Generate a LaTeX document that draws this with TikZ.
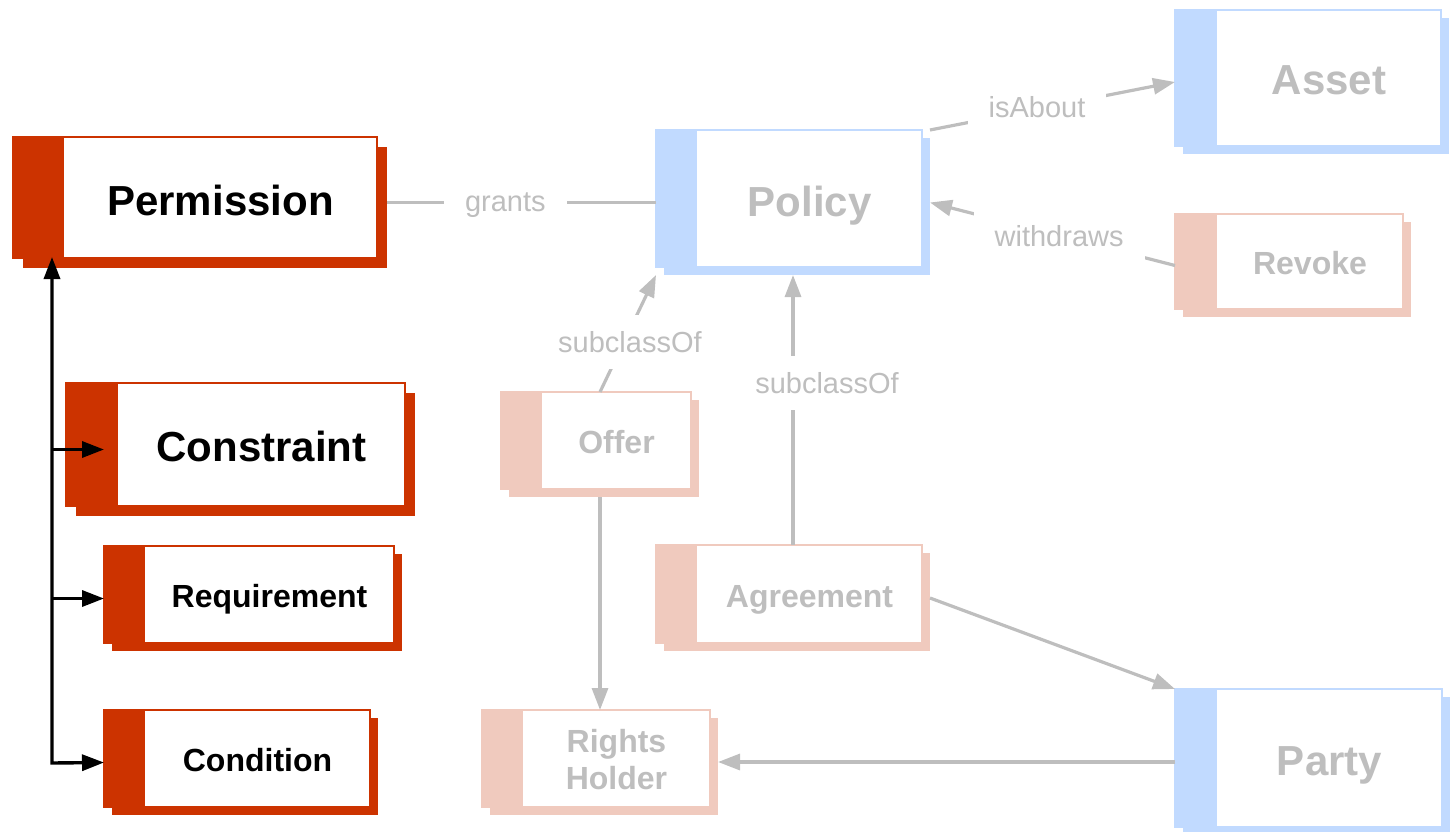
\documentclass[tikz,border=0pt]{standalone}
\usepackage{fontspec}
\setmainfont{Liberation Sans}
\usetikzlibrary{arrows.meta}
\definecolor{odrlred}{RGB}{204,51,0}
\definecolor{lblue}{RGB}{193,218,255}
\definecolor{lpink}{RGB}{240,202,190}
\definecolor{lgray}{RGB}{190,190,190}
\tikzset{
  conn/.style={draw=lgray, line width=3.2pt},
  arr/.style={-{Triangle[length=22pt,width=16pt]}},
  lbl/.style={fill=white, text=lgray, font=\fontsize{29}{29}\selectfont, inner xsep=21pt, inner ysep=16pt},
  bigtxt/.style={font=\bfseries\fontsize{42}{42}\selectfont, text height=33pt, text depth=0pt, inner sep=0pt},
  midtxt/.style={font=\bfseries\fontsize{32}{32}\selectfont, text height=25pt, text depth=0pt, inner sep=0pt},
  blk/.style={draw=black, line width=3.4pt},
  blkarr/.style={-{Triangle[length=22pt,width=16pt]}},
  boxmain/.style={fill=white, line width=1.5pt, inner sep=0pt, outer sep=0pt, anchor=north west},
  boxunion/.style={inner sep=0pt, outer sep=0pt, anchor=north west},
}
% #1 name, #2 x1, #3 y1, #4 x2, #5 y2, #6 band x, #7 colour, #8 shadow offset
\newcommand{\kbox}[8]{%
  \fill[#7] ({#2+#8},{#3+#8}) rectangle ({#4+#8},{#5+#8});
  \node[boxmain, draw=#7, minimum width={(#4-#2)*1pt}, minimum height={(#5-#3)*1pt}] (#1m) at (#2,#3) {};
  \fill[#7] (#2,#3) rectangle (#6,#5);
  \node[boxunion, minimum width={(#4+#8-#2)*1pt}, minimum height={(#5+#8-#3)*1pt}] (#1) at (#2,#3) {};
}
\begin{document}
\begin{tikzpicture}[x=1pt,y=-1pt]
\useasboundingbox (0,0) rectangle (1453,832);

% boxes
\kbox{perm}{13}{137}{377}{258}{64}{odrlred}{10}
\kbox{cons}{66}{383}{405}{506}{118}{odrlred}{10}
\kbox{req}{104}{546}{394}{643}{145}{odrlred}{8}
\kbox{cond}{104}{710}{370}{807}{145}{odrlred}{8}
\kbox{pol}{656}{130}{922}{267}{697}{lblue}{8}
\kbox{asset}{1175}{10}{1441}{146}{1217}{lblue}{8}
\kbox{rev}{1175}{214}{1403}{309}{1217}{lpink}{8}
\kbox{offer}{501}{392}{691}{489}{542}{lpink}{8}
\kbox{agr}{656}{545}{922}{643}{697}{lpink}{8}
\kbox{rh}{482}{710}{710}{807}{523}{lpink}{8}
\kbox{party}{1175}{689}{1442}{827}{1217}{lblue}{8}

% box texts
\node[bigtxt] (perm-t) at (220.5,198.5) {Permission};
\node[bigtxt] (cons-t) at (261.5,445) {Constraint};
\node[midtxt] (req-t) at (269.5,595) {Requirement};
\node[midtxt] (cond-t) at (257.5,759) {Condition};
\node[bigtxt, text=lgray] (pol-t) at (809.5,199.5) {Policy};
\node[bigtxt, text=lgray] (asset-t) at (1329,78.5) {Asset};
\node[midtxt, text=lgray] (rev-t) at (1310,262) {Revoke};
\node[midtxt, text=lgray] (offer-t) at (616.5,441) {Offer};
\node[midtxt, text=lgray] (agr-t) at (809.5,594.5) {Agreement};
\node[inner sep=0pt, align=center, text=lgray, font=\bfseries\fontsize{32}{37}\selectfont] (rh-t) at (616.5,760) {Rights\\Holder};
\node[bigtxt, text=lgray] (party-t) at (1329.5,759) {Party};

% grey connectors
\draw[conn] (perm.east) -- node[lbl, pos=0.44, yshift=-3pt] {grants} (pol.west);
\draw[conn, arr] (pol.north east) -- node[lbl, pos=0.437, yshift=2pt] {isAbout} (asset.west);
\draw[conn, arr] (rev.west) -- node[lbl, pos=0.473] {withdraws} (pol.east);
\draw[conn, arr] (offer.north) -- node[lbl, pos=0.427, xshift=6pt] {subclassOf} (pol.south west);
\draw[conn, arr] (agr.north) -- node[lbl, pos=0.6, xshift=34pt] {subclassOf} (agr.north |- pol.south);
\draw[conn, arr] (offer.south) -- (rh.north);
\draw[conn, arr] (agr.east) -- (party.north west);
\draw[conn, arr] (party.west) -- (party.west -| rh.east);

% black tree
\coordinate (trunk) at (52,763);
\draw[blk, {Triangle[length=22pt,width=16pt]}-{Triangle[length=22pt,width=16pt]}] ([yshift=11pt]trunk |- perm.south) -- (trunk) -- (cond.west);
\draw[blk, blkarr] (trunk |- cons.west) -- ([xshift=38pt]cons.west);
\draw[blk, blkarr] (trunk |- req.west) -- (req.west);
\end{tikzpicture}
\end{document}
